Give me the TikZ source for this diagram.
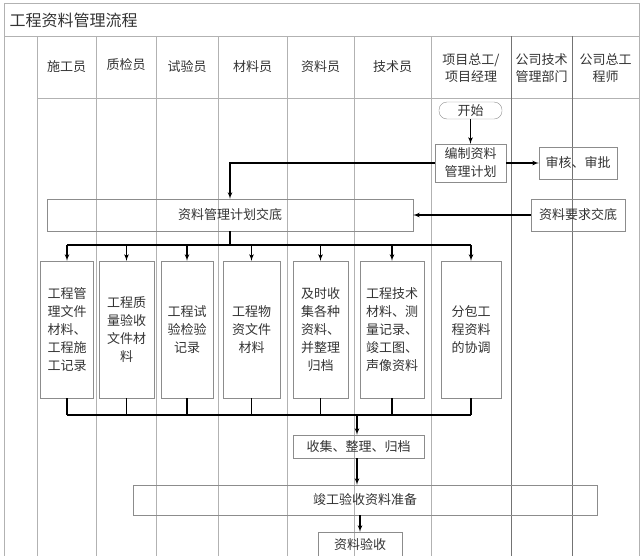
\documentclass[tikz,border=0pt]{standalone}
\usepackage{fontspec}
\setmainfont{Noto Sans CJK SC}
\usetikzlibrary{arrows}
\tikzstyle{every node}=[font=\fontsize{13}{18}\selectfont, text=black!80]
\tikzstyle{lane} = [draw=black!30, line width=0.8pt]
\tikzstyle{block} = [rectangle, draw=black!45, align=center, inner sep=1pt]
\tikzstyle{tall} = [block, minimum width=53pt, minimum height=137pt]
\tikzstyle{line} = [draw, line width=1.2pt, -latex']
\tikzstyle{bus} = [draw, line width=1.2pt]

\begin{document}
\begin{tikzpicture}[x=1pt, y=-1pt]
    \useasboundingbox (0,0) rectangle (644,555);
    % Swimlanes
    \draw [lane] (4,3) rectangle (639,565);
    \draw [lane] (4,36) -- (639,36);
    \draw [lane] (37,98) -- (639,98);
    \foreach \x in {37,96,156,218,287,354,431}
        \draw [lane] (\x,36) -- (\x,565);
    \draw [lane, draw=black!55] (511,36) -- (511,565);
    \draw [lane, draw=black!55] (572,36) -- (572,565);
    \node [anchor=west, font=\fontsize{16}{18}\selectfont] (title) at (6,20) {工程资料管理流程};
    \node (h1) at (66.5,67) {施工员};
    \node (h2) at (126,65) {质检员};
    \node (h3) at (187,67) {试验员};
    \node (h4) at (252.5,67) {材料员};
    \node (h5) at (320.5,67) {资料员};
    \node (h6) at (392.5,67) {技术员};
    \node [align=center, font=\fontsize{13}{17}\selectfont] (h7) at (471,68) {项目总工/\\项目经理};
    \node [align=center, font=\fontsize{13}{17}\selectfont] (h8) at (541.5,68) {公司技术\\管理部门};
    \node [align=center, font=\fontsize{13}{17}\selectfont] (h9) at (605.5,68) {公司总工\\程师};
    % Place nodes
    \node [block, rounded corners=8pt, minimum width=63pt, minimum height=17pt] (start) at (470.5,110.5) {开始};
    \node [block, minimum width=71pt, minimum height=38pt] (plan) at (470.5,163) {编制资料\\管理计划};
    \node [block, minimum width=78pt, minimum height=32pt] (approve) at (578,163) {审核、审批};
    \node [block, minimum width=366pt, minimum height=32pt] (brief) at (230,215) {资料管理计划交底};
    \node [block, minimum width=94pt, minimum height=32pt] (demand) at (578,215) {资料要求交底};
    \node [tall] (b1) at (67,329.5) {工程管\\理文件\\材料、\\工程施\\工记录};
    \node [tall, minimum width=55pt] (b2) at (126.5,329.5) {工程质\\量验收\\文件材\\料};
    \node [tall, minimum width=52pt] (b3) at (187,329.5) {工程试\\验检验\\记录};
    \node [tall, minimum width=57pt] (b4) at (251.5,329.5) {工程物\\资文件\\材料};
    \node [tall, minimum width=55pt] (b5) at (320.5,329.5) {及时收\\集各种\\资料、\\并整理\\归档};
    \node [tall, minimum width=64pt] (b6) at (392,329.5) {工程技术\\材料、测\\量记录、\\竣工图、\\声像资料};
    \node [tall, minimum width=60pt] (b7) at (471,329.5) {分包工\\程资料\\的协调};
    \node [block, minimum width=131pt, minimum height=23pt] (collect) at (358.5,446.5) {收集、整理、归档};
    \node [block, minimum width=464pt, minimum height=30pt] (prepare) at (365,500) {竣工验收资料准备};
    \node [block, minimum width=84pt, minimum height=25pt] (accept) at (360,544.5) {资料验收};
    \coordinate (split) at (230,245);
    \coordinate (merge) at (357,415);
    % Draw edges
    \path [line] (start) -- (plan);
    \path [line] (plan) -- (approve);
    \path [line] (plan.west) -| (brief.north);
    \path [line] (demand) -- (brief);
    \path [bus] (brief.south) -- (split);
    \path [bus] (b1.north |- split) -- (b7.north |- split);
    \foreach \b in {b1,b2,b3,b4,b5,b6,b7} {
        \path [line] (\b.north |- split) -- (\b.north);
        \path [bus] (\b.south) -- (\b.south |- merge);
    }
    \path [bus] (b1.south |- merge) -- (b7.south |- merge);
    \path [line] (merge) -- (merge |- collect.north);
    \path [line] (merge |- collect.south) -- (merge |- prepare.north);
    \path [line] (accept.north |- prepare.south) -- (accept.north);
\end{tikzpicture}
\end{document}
